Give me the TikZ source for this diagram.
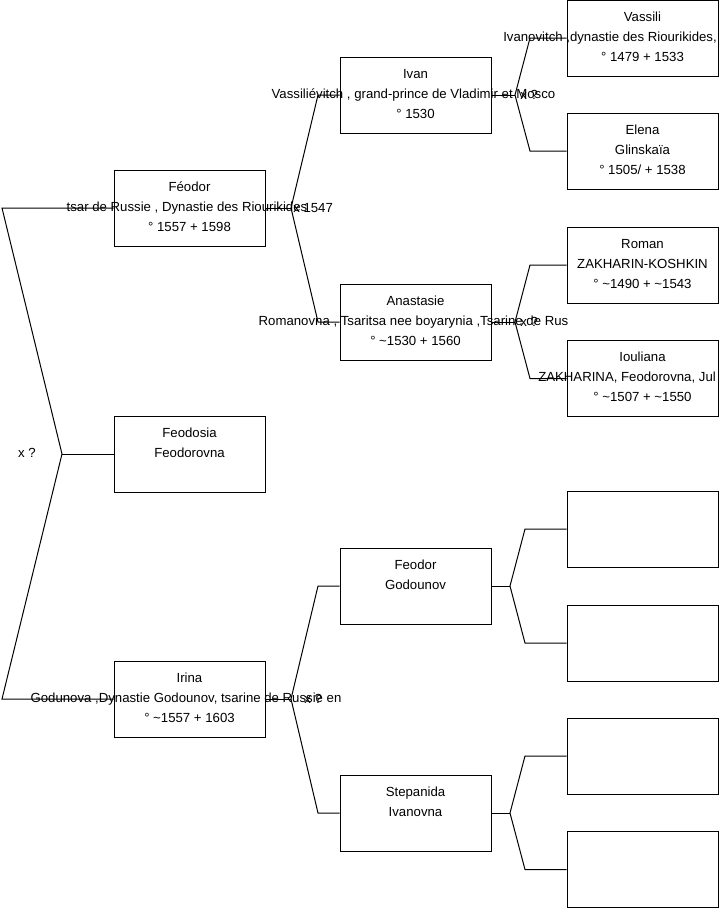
\documentclass[tikz,border=0pt]{standalone}
\usepackage{fontspec}
\setmainfont{Liberation Sans}
\tikzset{
  pbox/.style={draw=black, line width=0.75pt, minimum width=113.25pt, minimum height=57pt, inner sep=0pt, fill=white},
  ptext/.style={anchor=base, inner sep=0pt, font=\fontsize{9.9pt}{12pt}\selectfont},
  plink/.style={draw=black, line width=0.75pt},
}
\begin{document}
\begin{tikzpicture}[x=0.75pt,y=-0.75pt]
\useasboundingbox (0,0) rectangle (719,908);
\clip (0,0) rectangle (719,908);
\fill[white] (0,0) rectangle (719,908);

% fork coordinates
\coordinate (f0) at (62,454);
\coordinate (f0a) at (2,208);
\coordinate (f0b) at (2,699);
\coordinate (f1) at (291,208);
\coordinate (f1a) at (318,95);
\coordinate (f1b) at (318,322);
\coordinate (f2) at (291,699);
\coordinate (f2a) at (318,586);
\coordinate (f2b) at (318,813);
\coordinate (g1) at (515,95);
\coordinate (g1a) at (530,38);
\coordinate (g1b) at (530,151);
\coordinate (g2) at (515,322);
\coordinate (g2a) at (530,265);
\coordinate (g2b) at (530,378.5);
\coordinate (g3) at (510,586);
\coordinate (g3a) at (525,529);
\coordinate (g3b) at (525,643);
\coordinate (g4) at (510,813);
\coordinate (g4a) at (525,756);
\coordinate (g4b) at (525,869.5);

% boxes
\node[pbox] (feodor) at (189.5,208) {};
\node[pbox] (feodosia) at (189.5,454) {};
\node[pbox] (irina) at (189.5,699) {};
\node[pbox] (ivan) at (415.5,95) {};
\node[pbox] (anast) at (415.5,322) {};
\node[pbox] (fgod) at (415.5,586) {};
\node[pbox] (stepan) at (415.5,813) {};
\node[pbox] (vass) at (642.5,38) {};
\node[pbox] (elena) at (642.5,151) {};
\node[pbox] (roman) at (642.5,265) {};
\node[pbox] (ioul) at (642.5,378.5) {};
\node[pbox] (e1) at (642.5,529) {};
\node[pbox] (e2) at (642.5,643) {};
\node[pbox] (e3) at (642.5,756) {};
\node[pbox] (e4) at (642.5,869.5) {};

% connectors
\draw[plink] (feodor.west) -- (f0a) -- (f0) -- (f0b) -- (irina.west);
\draw[plink] (f0) -- (feodosia.west);
\draw[plink] (feodor.east) -- (f1);
\draw[plink] (ivan.west) -- (f1a) -- (f1) -- (f1b) -- (anast.west);
\draw[plink] (irina.east) -- (f2);
\draw[plink] (fgod.west) -- (f2a) -- (f2) -- (f2b) -- (stepan.west);
\draw[plink] (ivan.east) -- (g1);
\draw[plink] (vass.west) -- (g1a) -- (g1) -- (g1b) -- (elena.west);
\draw[plink] (anast.east) -- (g2);
\draw[plink] (roman.west) -- (g2a) -- (g2) -- (g2b) -- (ioul.west);
\draw[plink] (fgod.east) -- (g3);
\draw[plink] (e1.west) -- (g3a) -- (g3) -- (g3b) -- (e2.west);
\draw[plink] (stepan.east) -- (g4);
\draw[plink] (e3.west) -- (g4a) -- (g4) -- (g4b) -- (e4.west);

% texts
\node[ptext] (feodor-a) at (189.5,191) {Féodor};
\node[ptext] (feodor-b) at (187,211) {tsar de Russie , Dynastie des Riourikides};
\node[ptext] (feodor-c) at (189.5,231) {° 1557 + 1598};
\node[ptext] (feodosia-a) at (189.5,437) {Feodosia};
\node[ptext] (feodosia-b) at (189.5,457) {Feodorovna};
\node[ptext] (irina-a) at (189.5,682) {Irina};
\node[ptext] (irina-b) at (186,702) {Godunova ,Dynastie Godounov, tsarine de Russie en};
\node[ptext] (irina-c) at (189.5,722) {° \textasciitilde1557 + 1603};
\node[ptext] (ivan-a) at (415.5,78) {Ivan};
\node[ptext] (ivan-b) at (413.5,98) {Vassiliévitch , grand-prince de Vladimir et Mosco};
\node[ptext] (ivan-c) at (415.5,118) {° 1530};
\node[ptext] (anast-a) at (415.5,305) {Anastasie};
\node[ptext] (anast-b) at (413.5,325) {Romanovna , Tsaritsa nee boyarynia ,Tsarine de Rus};
\node[ptext] (anast-c) at (415.5,345) {° \textasciitilde1530 + 1560};
\node[ptext] (fgod-a) at (415.5,569) {Feodor};
\node[ptext] (fgod-b) at (415.5,589) {Godounov};
\node[ptext] (stepan-a) at (415.5,796) {Stepanida};
\node[ptext] (stepan-b) at (415.5,816) {Ivanovna};
\node[ptext] (vass-a) at (642.5,21) {Vassili};
\node[ptext, anchor=base west] (vass-b) at (503,41) {Ivanovitch ,dynastie des Riourikides,};
\node[ptext] (vass-c) at (642.5,61) {° 1479 + 1533};
\node[ptext] (elena-a) at (642.5,134) {Elena};
\node[ptext] (elena-b) at (642.5,154) {Glinskaïa};
\node[ptext] (elena-c) at (642.5,174) {° 1505/ + 1538};
\node[ptext] (roman-a) at (642.5,248) {Roman};
\node[ptext] (roman-b) at (642.5,268) {ZAKHARIN-KOSHKIN};
\node[ptext] (roman-c) at (642.5,288) {° \textasciitilde1490 + \textasciitilde1543};
\node[ptext] (ioul-a) at (642.5,361.5) {Iouliana};
\node[ptext, anchor=base west] (ioul-b) at (538,381.5) {ZAKHARINA, Feodorovna, Jul};
\node[ptext] (ioul-c) at (642.5,401.5) {° \textasciitilde1507 + \textasciitilde1550};

% marriage labels
\node[ptext] (m0) at (27,457) {x ?};
\node[ptext, anchor=base west] (m1) at (293,212) {x 1547};
\node[ptext, anchor=base west] (m2) at (304,703) {x ?};
\node[ptext, anchor=base west] (m3) at (520,99) {x ?};
\node[ptext, anchor=base west] (m4) at (520,326) {x ?};
\end{tikzpicture}
\end{document}
